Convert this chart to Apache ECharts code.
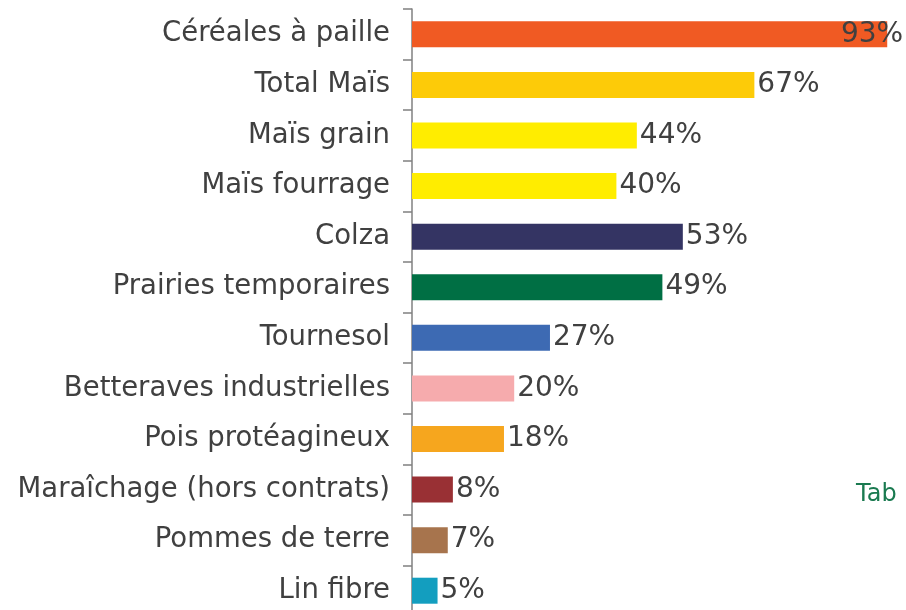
<!DOCTYPE html>
<html>
<head>
<meta charset="utf-8">
<script src="https://cdn.jsdelivr.net/npm/echarts@6/dist/echarts.min.js"></script>
<style>
  html, body { margin: 0; padding: 0; background: #fff; }
  #chart { width: 906px; height: 610px; }
</style>
</head>
<body>
<div id="chart"></div>
<script>
// cultures
const categories = [
  'Céréales à paille', 'Total Maïs', 'Maïs grain', 'Maïs fourrage', 'Colza',
  'Prairies temporaires', 'Tournesol', 'Betteraves industrielles',
  'Pois protéagineux', 'Maraîchage (hors contrats)', 'Pommes de terre', 'Lin fibre'
]
// part en %
const values = [93, 67, 44, 40, 53, 49, 27, 20, 18, 8, 7, 5]
const barColors = [
  '#F05A23', '#FDCB08', '#FFED00', '#FFED00', '#343463', '#006F44',
  '#3D6AB3', '#F6ABAD', '#F6A61E', '#993034', '#A7744D', '#139EBF'
]

const chart = echarts.init(document.getElementById('chart'))

chart.setOption({
  backgroundColor: '#fff',
  animation: false,
  textStyle: { fontFamily: 'DejaVu Sans' },
  grid: {
    left: 412,
    top: 9,
    width: 511,
    height: 607,
    outerBoundsMode: 'none'
  },
  xAxis: {
    type: 'value',
    min: 0,
    max: 100,
    show: false
  },
  yAxis: {
    type: 'category',
    inverse: true,
    data: categories,
    axisLine: { lineStyle: { color: '#808080', width: 1.5 } },
    axisTick: { show: true, length: 9, lineStyle: { color: '#808080', width: 1.5 } },
    axisLabel: { fontSize: 27.5, color: '#404040', margin: 22 }
  },
  series: [{
    type: 'bar',
    barWidth: 26,
    data: values.map(function (v, i) {
      const item = { value: v, itemStyle: { color: barColors[i] } }
      if (i === 0) {
        // trop près du bord : étiquette sur la barre
        item.label = { position: 'insideRight', distance: 0, offset: [16, 0] }
      }
      return item
    }),
    label: {
      show: true,
      position: 'right',
      distance: 3,
      fontSize: 28,
      color: '#404040',
      formatter: '{c}%'
    }
  }],
  graphic: [{
    type: 'text',
    left: 856,
    top: 483,
    style: { text: 'Tab', fontSize: 24, fill: '#1A7A50', fontFamily: 'DejaVu Sans' }
  }]
})
</script>
</body>
</html>
